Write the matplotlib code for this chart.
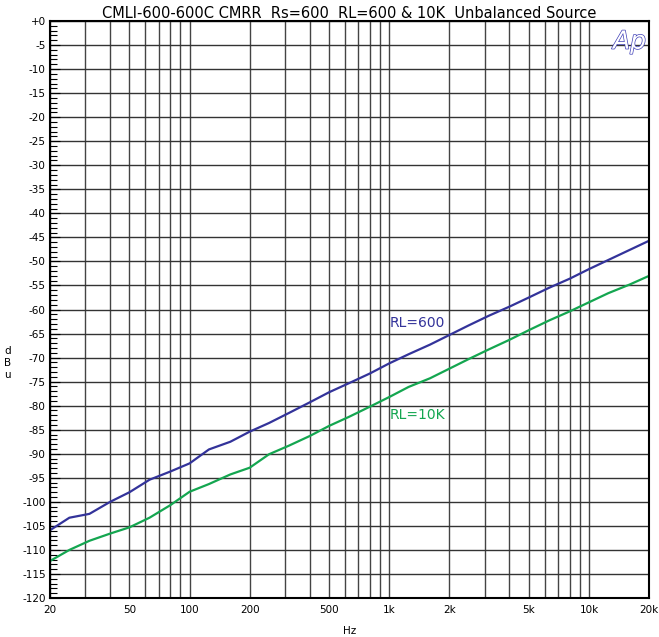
import matplotlib
matplotlib.use("Agg")
import matplotlib.pyplot as plt
import matplotlib.patheffects as pe
from matplotlib.ticker import FixedLocator, NullFormatter, MultipleLocator

# 1/3-octave sweep, CMRR in dBu
freqs = [20, 25, 31.5, 40, 50, 63, 80, 100, 125, 160, 200, 250, 315, 400, 500,
         630, 800, 1000, 1250, 1600, 2000, 2500, 3150, 4000, 5000, 6300, 8000,
         10000, 12500, 16000, 20000]
rl600 = [-105.9, -103.3, -102.5, -100.0, -98.0, -95.4, -93.7, -92.0, -89.1, -87.5,
         -85.4, -83.6, -81.5, -79.3, -77.2, -75.3, -73.3, -71.2, -69.3, -67.3,
         -65.3, -63.3, -61.3, -59.4, -57.5, -55.5, -53.6, -51.6, -49.7, -47.6, -45.7]
rl10k = [-112.3, -110.0, -108.1, -106.6, -105.3, -103.3, -100.7, -97.9, -96.3, -94.3,
         -92.9, -90.1, -88.3, -86.3, -84.2, -82.3, -80.2, -78.2, -76.1, -74.3,
         -72.3, -70.3, -68.3, -66.3, -64.3, -62.3, -60.4, -58.5, -56.6, -54.8, -53.0]

xtick_vals = [20, 50, 100, 200, 500, 1000, 2000, 5000, 10000, 20000]
xtick_labels = ["20", "50", "100", "200", "500", "1k", "2k", "5k", "10k", "20k"]
ytick_vals = list(range(0, -125, -5))
ytick_labels = ["+0"] + [str(v) for v in ytick_vals[1:]]

BLUE = "#33339a"
GREEN = "#14a650"

fig = plt.figure(figsize=(6.59, 6.37), dpi=100)
ax = fig.add_axes([0.0759, 0.0612, 0.909, 0.9058])

ax.plot(freqs, rl600, color=BLUE, lw=1.6)
ax.plot(freqs, rl10k, color=GREEN, lw=1.6)

ax.set_xscale("log")
ax.set_xlim(20, 20000)
ax.set_ylim(-120, 0)

# grid at every decade step
grid_x = [m * d for d in (10, 100, 1000, 10000) for m in range(1, 10) if 20 <= m * d <= 20000]
ax.xaxis.set_major_locator(FixedLocator(xtick_vals))
ax.xaxis.set_minor_locator(FixedLocator(grid_x))
ax.xaxis.set_minor_formatter(NullFormatter())
ax.set_xticks(xtick_vals, xtick_labels)
ax.set_yticks(ytick_vals, ytick_labels)
ax.yaxis.set_minor_locator(MultipleLocator(1))

for gx in grid_x:
    ax.axvline(gx, color="#444444", lw=1.0, zorder=0)
for gy in ytick_vals:
    ax.axhline(gy, color="#333333", lw=1.0, zorder=0)

ax.tick_params(axis="x", which="major", labelsize=7.5, length=0, pad=5)
ax.tick_params(axis="y", which="major", labelsize=7.5, length=7, pad=3,
               direction="in", width=0.8)
ax.tick_params(axis="x", which="minor", length=0)
ax.tick_params(axis="y", which="minor", direction="in", length=5, width=0.8)
for s in ax.spines.values():
    s.set_linewidth(1.5)

ax.set_title("CMLI-600-600C CMRR  Rs=600  RL=600 & 10K  Unbalanced Source",
             fontsize=10.5, pad=2)
ax.set_xlabel("Hz", fontsize=7.5, labelpad=8)
fig.text(0.012, 0.43, "d\nB\nu", fontsize=7.5, ha="center", va="center",
         linespacing=1.3)

ax.text(1000, -62.8, "RL=600", color=BLUE, fontsize=10, va="center", ha="left")
ax.text(1000, -82.0, "RL=10K", color=GREEN, fontsize=10, va="center", ha="left")

ax.text(0.995, 0.985, "Ap", transform=ax.transAxes, fontsize=18, style="italic",
        color="white", ha="right", va="top",
        path_effects=[pe.Stroke(linewidth=1.0, foreground="#4040b8"), pe.Normal()])

fig.savefig("out.png", dpi=100, facecolor="white")
